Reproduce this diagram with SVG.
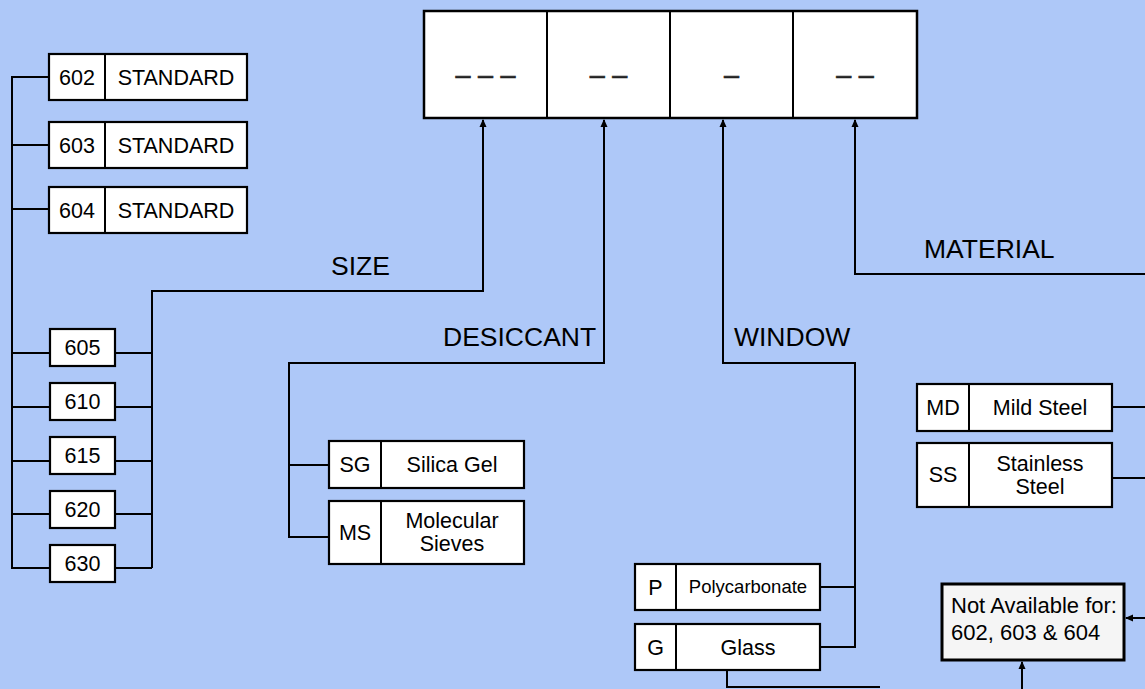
<svg xmlns="http://www.w3.org/2000/svg" width="1145" height="689" viewBox="0 0 1145 689">
<defs>
<marker id="ah" markerWidth="8" markerHeight="8" refX="7" refY="4" orient="auto" markerUnits="userSpaceOnUse">
<path d="M0,0.5 L8,4 L0,7.5 Z" fill="#000"/>
</marker>
<style>
.bx{fill:#fff;stroke:#000;stroke-width:2.2}
.ln{fill:none;stroke:#000;stroke-width:2}
.t{font-family:"Liberation Sans",Arial,sans-serif;font-size:21.5px;fill:#000;text-anchor:middle}
.s{font-size:18.5px}
.lb{font-family:"Liberation Sans",Arial,sans-serif;font-size:26.5px;fill:#000}
.na{font-family:"Liberation Sans",Arial,sans-serif;font-size:22px;fill:#000}
.d{font-family:"Liberation Sans",Arial,sans-serif;font-size:27px;fill:#222;text-anchor:middle;stroke:#222;stroke-width:0.6}
</style>
</defs>
<rect width="1145" height="689" fill="#AEC8F8"/>

<g id="code">
<rect x="424" y="11" width="493" height="107" fill="#fff" stroke="#000" stroke-width="2.5"/>
<line x1="547" y1="11" x2="547" y2="118" class="ln"/>
<line x1="670" y1="11" x2="670" y2="118" class="ln"/>
<line x1="793" y1="11" x2="793" y2="118" class="ln"/>
<text x="485.5" y="84" class="d">– – –</text>
<text x="608.5" y="84" class="d">– –</text>
<text x="731.5" y="84" class="d">–</text>
<text x="855" y="84" class="d">– –</text>
</g>

<g id="n602"><rect x="49" y="54" width="198" height="46" class="bx"/><line x1="105" y1="54" x2="105" y2="100" class="ln"/><text x="77" y="85" class="t">602</text><text x="176" y="85" class="t">STANDARD</text></g>
<g id="n603"><rect x="49" y="122" width="198" height="46" class="bx"/><line x1="105" y1="122" x2="105" y2="168" class="ln"/><text x="77" y="153" class="t">603</text><text x="176" y="153" class="t">STANDARD</text></g>
<g id="n604"><rect x="49" y="187" width="198" height="46" class="bx"/><line x1="105" y1="187" x2="105" y2="233" class="ln"/><text x="77" y="218" class="t">604</text><text x="176" y="218" class="t">STANDARD</text></g>

<g id="n605"><rect x="50" y="329" width="65" height="37" class="bx"/><text x="82.5" y="355" class="t">605</text></g>
<g id="n610"><rect x="50" y="383" width="65" height="37" class="bx"/><text x="82.5" y="409" class="t">610</text></g>
<g id="n615"><rect x="50" y="437" width="65" height="37" class="bx"/><text x="82.5" y="463" class="t">615</text></g>
<g id="n620"><rect x="50" y="491" width="65" height="37" class="bx"/><text x="82.5" y="517" class="t">620</text></g>
<g id="n630"><rect x="50" y="545" width="65" height="37" class="bx"/><text x="82.5" y="571" class="t">630</text></g>

<g id="nSG"><rect x="329" y="441" width="195" height="47" class="bx"/><line x1="381" y1="441" x2="381" y2="488" class="ln"/><text x="355" y="472" class="t">SG</text><text x="452" y="472" class="t">Silica Gel</text></g>
<g id="nMS"><rect x="329" y="501" width="195" height="63" class="bx"/><line x1="381" y1="501" x2="381" y2="564" class="ln"/><text x="355" y="540" class="t">MS</text><text x="452" y="528" class="t">Molecular</text><text x="452" y="551" class="t">Sieves</text></g>

<g id="nP"><rect x="635" y="564" width="185" height="46" class="bx"/><line x1="676" y1="564" x2="676" y2="610" class="ln"/><text x="655.5" y="595" class="t">P</text><text x="748" y="593" class="t s">Polycarbonate</text></g>
<g id="nG"><rect x="635" y="624" width="185" height="46" class="bx"/><line x1="676" y1="624" x2="676" y2="670" class="ln"/><text x="655.5" y="655" class="t">G</text><text x="748" y="655" class="t">Glass</text></g>

<g id="nMD"><rect x="917" y="384" width="195" height="47" class="bx"/><line x1="969" y1="384" x2="969" y2="431" class="ln"/><text x="943" y="415" class="t">MD</text><text x="1040" y="415" class="t">Mild Steel</text></g>
<g id="nSS"><rect x="917" y="443" width="195" height="64" class="bx"/><line x1="969" y1="443" x2="969" y2="507" class="ln"/><text x="943" y="482" class="t">SS</text><text x="1040" y="471" class="t">Stainless</text><text x="1040" y="494" class="t">Steel</text></g>

<g id="nNA"><rect x="942" y="584" width="182" height="76" fill="#F5F5F5" stroke="#000" stroke-width="3"/><text x="951" y="613" class="na">Not Available for:</text><text x="951" y="640" class="na">602, 603 &amp; 604</text></g>

<g id="labels">
<text x="331" y="275" class="lb">SIZE</text>
<text x="443" y="346" class="lb">DESICCANT</text>
<text x="734" y="346" class="lb">WINDOW</text>
<text x="924" y="258" class="lb">MATERIAL</text>
</g>

<g id="connectors">
<path d="M49,77 H12 V568 H50 M12,145 H49 M12,209 H49 M12,353 H50 M12,407 H50 M12,461 H50 M12,514 H50" class="ln"/>
<path d="M115,353 H152 M115,407 H152 M115,461 H152 M115,514 H152 M115,568 H152 M152,568 V291 H483 V120" class="ln" marker-end="url(#ah)"/>
<path d="M329,465 H289 M329,537 H289 V363 H604 V120" class="ln" marker-end="url(#ah)"/>
<path d="M820,587 H855 M820,647 H855 V363 H723 V120" class="ln" marker-end="url(#ah)"/>
<path d="M1145,274 H855 V120" class="ln" marker-end="url(#ah)"/>
<path d="M1112,407 H1145 M1112,478 H1145" class="ln"/>
<path d="M727,670 V687 H880" class="ln"/>
<path d="M1022,689 V662" class="ln" marker-end="url(#ah)"/>
<path d="M1145,618 H1126" class="ln" marker-end="url(#ah)"/>
</g>
</svg>
